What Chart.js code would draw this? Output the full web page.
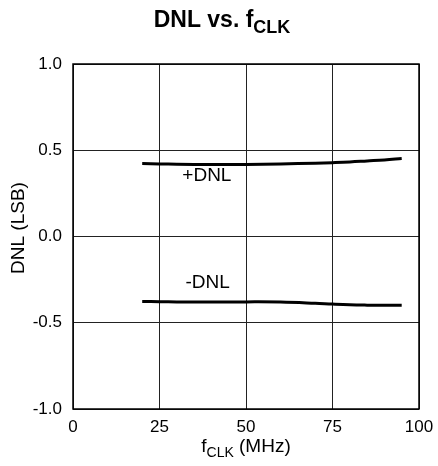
<!DOCTYPE html>
<html><head><meta charset="utf-8">
<script src="https://cdn.jsdelivr.net/npm/chart.js@4"></script>
<style>html,body{margin:0;padding:0;background:#fff}#wrap{width:438px;height:466px}</style>
</head><body><div id="wrap"><canvas id="c" width="438" height="466"></canvas></div>
<script>
const freqs = [20, 25, 30, 40, 50, 60, 70, 75, 80, 85, 90, 95];
const posDNL = [0.423, 0.421, 0.419, 0.417, 0.418, 0.421, 0.425, 0.428, 0.432, 0.438, 0.444, 0.452];
const negDNL = [-0.377, -0.378, -0.379, -0.380, -0.379, -0.380, -0.387, -0.392, -0.396, -0.398, -0.399, -0.399];
const xTicks = [0, 25, 50, 75, 100];
const yTicks = [-1.0, -0.5, 0.0, 0.5, 1.0];
const seriesLabels = ['+DNL', '-DNL'];
const labelPos = [[31.6, 0.322], [32.5, -0.299]];

const FONT = 'Liberation Sans, Arial, sans-serif';

const overlay = {
  id: 'overlay',
  afterDraw(chart) {
    const {ctx, chartArea: a, scales: {x, y}} = chart;
    ctx.save();
    ctx.fillStyle = '#000';
    ctx.textBaseline = 'alphabetic';
    ctx.textAlign = 'left';
    // title
    const t1 = 'DNL vs. f', t2 = 'CLK';
    ctx.font = 'bold 23px ' + FONT;
    const w1 = ctx.measureText(t1).width;
    ctx.font = 'bold 18px ' + FONT;
    const w2 = ctx.measureText(t2).width;
    const sx = 222 - (w1 + w2) / 2;
    ctx.font = 'bold 23px ' + FONT;
    ctx.fillText(t1, sx, 27);
    ctx.font = 'bold 18px ' + FONT;
    ctx.fillText(t2, sx + w1, 33);
    // x title
    const a1 = 'f', a2 = 'CLK', a3 = ' (MHz)';
    ctx.font = '19px ' + FONT;
    const wa1 = ctx.measureText(a1).width, wa3 = ctx.measureText(a3).width;
    ctx.font = '14px ' + FONT;
    const wa2 = ctx.measureText(a2).width;
    const ax = (a.left + a.right) / 2 - (wa1 + wa2 + wa3) / 2;
    ctx.font = '19px ' + FONT;
    ctx.fillText(a1, ax, 452);
    ctx.font = '14px ' + FONT;
    ctx.fillText(a2, ax + wa1, 457);
    ctx.font = '19px ' + FONT;
    ctx.fillText(a3, ax + wa1 + wa2, 452);
    // y title
    ctx.save();
    ctx.translate(24, 228);
    ctx.rotate(-Math.PI / 2);
    ctx.textAlign = 'center';
    ctx.font = '19px ' + FONT;
    ctx.fillText('DNL (LSB)', 0, 0);
    ctx.restore();
    // series labels
    ctx.font = '19px ' + FONT;
    ctx.textAlign = 'left';
    seriesLabels.forEach((s, i) => {
      ctx.fillText(s, x.getPixelForValue(labelPos[i][0]), y.getPixelForValue(labelPos[i][1]));
    });
    // border
    ctx.strokeStyle = '#000';
    ctx.lineWidth = 1.5;
    ctx.strokeRect(a.left, a.top, a.right - a.left, a.bottom - a.top);
    ctx.restore();
  }
};

new Chart(document.getElementById('c'), {
  type: 'line',
  data: {
    datasets: [
      {data: freqs.map((f, i) => ({x: f, y: posDNL[i]})), borderColor: '#000', borderWidth: 3, pointRadius: 0, tension: 0.4, fill: false},
      {data: freqs.map((f, i) => ({x: f, y: negDNL[i]})), borderColor: '#000', borderWidth: 3, pointRadius: 0, tension: 0.4, fill: false}
    ]
  },
  options: {
    responsive: false,
    animation: false,
    devicePixelRatio: 1,
    layout: {padding: {top: 64, right: 19, bottom: 0, left: 0}},
    plugins: {legend: {display: false}, tooltip: {enabled: false}, title: {display: false}},
    scales: {
      x: {
        type: 'linear', min: 0, max: 100,
        afterBuildTicks: s => { s.ticks = xTicks.map(v => ({value: v})); },
        afterFit: s => { s.height = 57; s.paddingLeft = 0; s.paddingRight = 0; },
        grid: {color: '#222', lineWidth: 1, drawTicks: false},
        border: {display: false},
        ticks: {color: '#000', font: {size: 17, family: FONT}, padding: 8, maxRotation: 0,
                callback: v => String(v)}
      },
      y: {
        type: 'linear', min: -1, max: 1,
        afterBuildTicks: s => { s.ticks = yTicks.map(v => ({value: v})); },
        afterFit: s => { s.width = 73; s.paddingTop = 0; s.paddingBottom = 0; },
        grid: {color: '#222', lineWidth: 1, drawTicks: false},
        border: {display: false},
        ticks: {color: '#000', font: {size: 17, family: FONT}, padding: 11,
                callback: v => Number(v).toFixed(1)}
      }
    }
  },
  plugins: [overlay]
});
</script></body></html>
